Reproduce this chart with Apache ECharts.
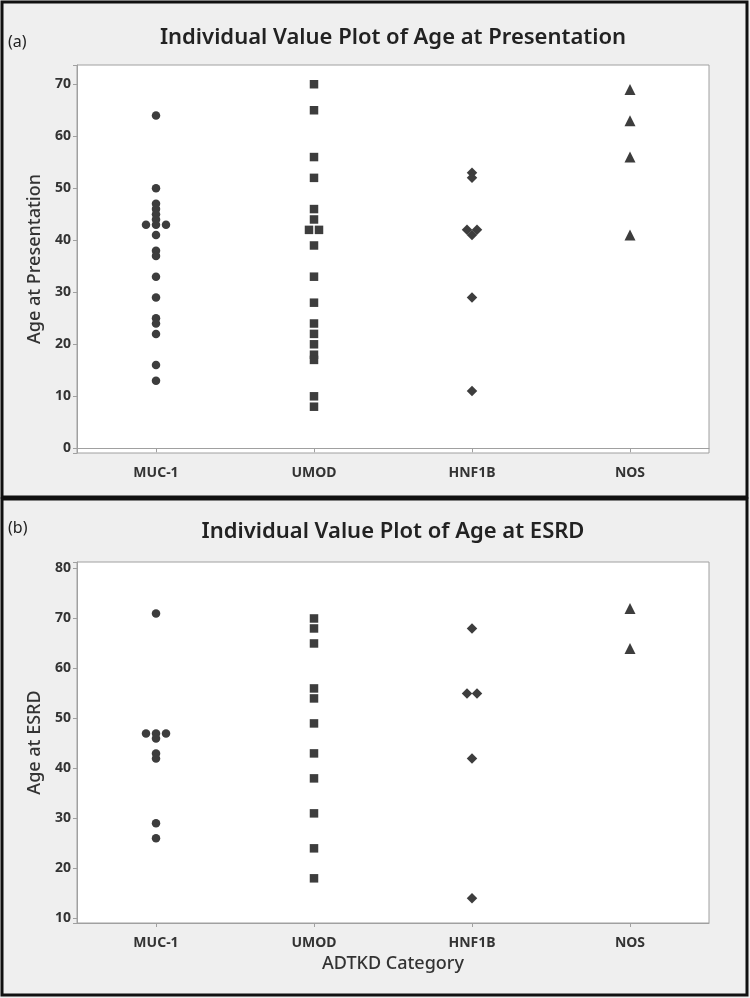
<!DOCTYPE html>
<html><head><meta charset="utf-8">
<script src="https://cdn.jsdelivr.net/npm/echarts@6/dist/echarts.min.js"></script>
<style>html,body{margin:0;padding:0;background:#efefef}#c{width:750px;height:998px}</style>
</head><body><div id="c"></div>
<script>
const categories = ['MUC-1', 'UMOD', 'HNF1B', 'NOS'];
const symbols = ['circle', 'rect', 'diamond', 'triangle'];
const symbolSizes = [8.5, 8.5, 10.5, 11];

// (a) Age at Presentation
const presMUC1 = [64, 50, 47, 46, 45, 44, 43, 43, 43, 41, 38, 37, 33, 29, 25, 24, 22, 16, 13];
const presUMOD = [70, 65, 56, 52, 46, 44, 42, 42, 39, 33, 28, 24, 22, 20, 18, 17, 10, 8];
const presHNF1B = [53, 52, 42, 42, 41, 29, 11];
const presNOS = [69, 63, 56, 41];
const presTicks = [0, 10, 20, 30, 40, 50, 60, 70];

// (b) Age at ESRD
const esrdMUC1 = [71, 47, 47, 47, 46, 43, 42, 29, 26];
const esrdUMOD = [70, 68, 65, 56, 54, 49, 43, 38, 31, 24, 18];
const esrdHNF1B = [68, 55, 55, 42, 14];
const esrdNOS = [72, 64];
const esrdTicks = [10, 20, 30, 40, 50, 60, 70, 80];

const FONT = 'Noto Sans';
const INK = '#333';
const MARK = '#3d3d3d';

// duplicates are placed side by side (individual value plot)
function toData(vals, ci, step) {
  const counts = {}, seen = {};
  vals.forEach(v => counts[v] = (counts[v] || 0) + 1);
  return vals.map(v => {
    const n = counts[v];
    seen[v] = seen[v] === undefined ? 0 : seen[v] + 1;
    return { value: [ci, v], symbolOffset: [(seen[v] - (n - 1) / 2) * step, 0] };
  });
}

function yAxis(gi, name, min, max, ticks) {
  return {
    type: 'value', gridIndex: gi, min: min, max: max, splitNumber: 7,
    minInterval: 10, maxInterval: 10,
    name: name, nameLocation: 'middle', nameGap: 33,
    nameTextStyle: { fontFamily: FONT, fontSize: 18, fontWeight: 500, color: INK },
    axisLine: { show: true, lineStyle: { color: '#a0a0a0' } },
    axisTick: { show: true, length: 4, lineStyle: { color: '#a0a0a0' } },
    splitLine: { show: false },
    axisLabel: {
      fontFamily: FONT, fontSize: 14, fontWeight: 'bold', color: INK, margin: 6,
      formatter: v => ticks.indexOf(v) >= 0 ? String(v) : ''
    }
  };
}
function xAxis(gi, name) {
  return {
    type: 'category', gridIndex: gi, data: categories, boundaryGap: true,
    name: name, nameLocation: 'middle', nameGap: 32,
    nameTextStyle: { fontFamily: FONT, fontSize: 18, fontWeight: 500, color: INK },
    axisLine: { show: true, lineStyle: { color: '#a0a0a0' } },
    axisTick: { show: true, alignWithLabel: true, length: 4, lineStyle: { color: '#a0a0a0' } },
    splitLine: { show: false },
    axisLabel: { fontFamily: FONT, fontSize: 14, fontWeight: 'bold', color: INK, margin: 13 }
  };
}

const presSets = [presMUC1, presUMOD, presHNF1B, presNOS];
const esrdSets = [esrdMUC1, esrdUMOD, esrdHNF1B, esrdNOS];
const series = [];
[presSets, esrdSets].forEach((sets, gi) => {
  sets.forEach((vals, ci) => {
    series.push({
      type: 'scatter', xAxisIndex: gi, yAxisIndex: gi,
      symbol: symbols[ci], symbolSize: symbolSizes[ci],
      itemStyle: { color: MARK, opacity: 1 },
      data: toData(vals, ci, 10)
    });
  });
});

const chart = echarts.init(document.getElementById('c'), null, { renderer: 'canvas' });
chart.setOption({
  backgroundColor: '#efefef',
  animation: false,
  grid: [
    { left: 77, right: 41, top: 65, height: 388, show: true, backgroundColor: '#fff', borderColor: '#a0a0a0', borderWidth: 1 },
    { left: 77, right: 41, top: 562, height: 361, show: true, backgroundColor: '#fff', borderColor: '#a0a0a0', borderWidth: 1 }
  ],
  xAxis: [xAxis(0, ''), xAxis(1, 'ADTKD Category')],
  yAxis: [yAxis(0, 'Age at Presentation', -0.9, 73.7, presTicks), yAxis(1, 'Age at ESRD', 9.06, 81.3, esrdTicks)],
  series: series,
  graphic: [
    { type: 'rect', shape: { x: 2, y: 2, width: 745, height: 495 }, style: { fill: 'none', stroke: '#111', lineWidth: 3 }, silent: true },
    { type: 'rect', shape: { x: 2, y: 499, width: 745, height: 496 }, style: { fill: 'none', stroke: '#111', lineWidth: 3 }, silent: true },
    { type: 'text', x: 393, y: 38, style: { text: 'Individual Value Plot of Age at Presentation', font: '600 22px "Noto Sans"', fill: '#222', textAlign: 'center', textVerticalAlign: 'middle' } },
    { type: 'text', x: 393, y: 532, style: { text: 'Individual Value Plot of Age at ESRD', font: '600 22px "Noto Sans"', fill: '#222', textAlign: 'center', textVerticalAlign: 'middle' } },
    { type: 'text', x: 8, y: 42, style: { text: '(a)', font: '16px "Noto Sans"', fill: '#222', textVerticalAlign: 'middle' } },
    { type: 'text', x: 8, y: 528, style: { text: '(b)', font: '16px "Noto Sans"', fill: '#222', textVerticalAlign: 'middle' } }
  ]
});
</script></body></html>
